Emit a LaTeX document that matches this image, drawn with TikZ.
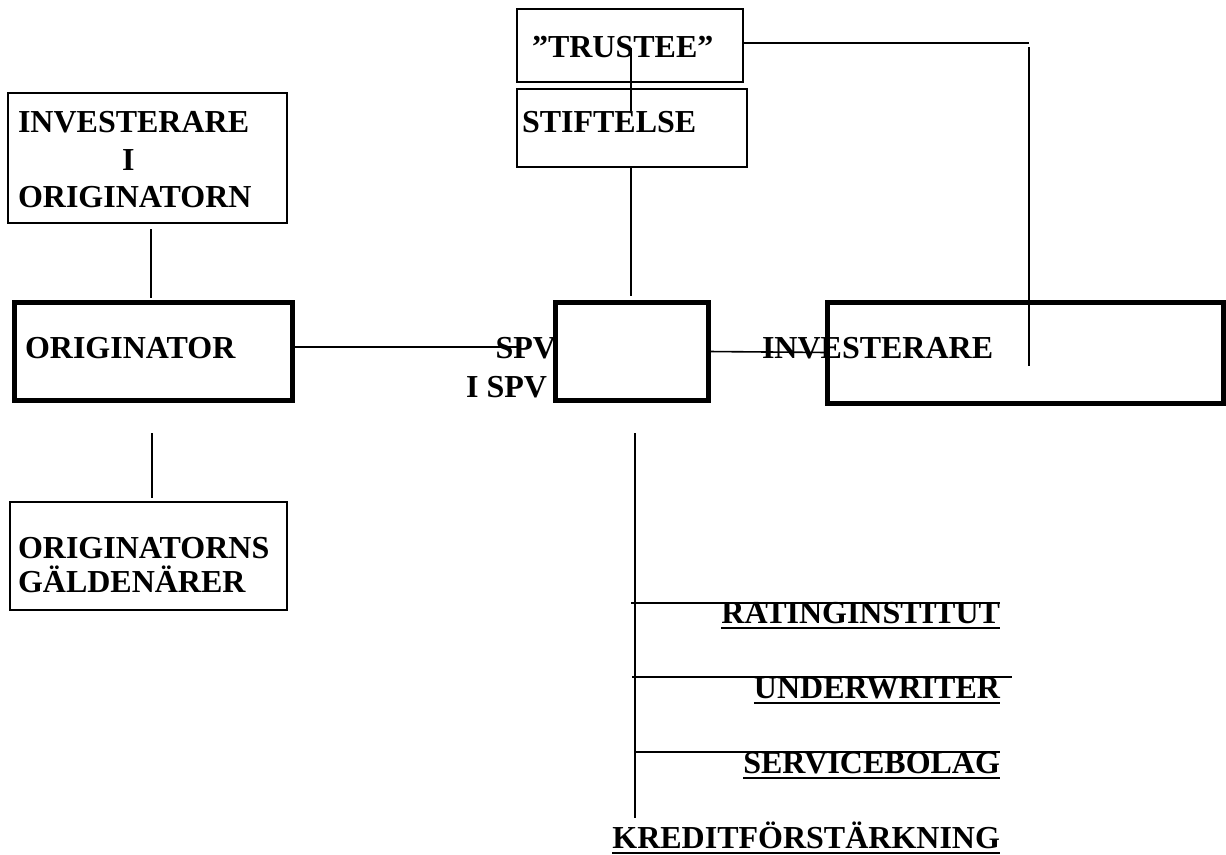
\documentclass[tikz,border=0pt]{standalone}
\usepackage{fontspec}
\setmainfont{Liberation Serif}
\begin{document}
\begin{tikzpicture}[x=1pt,y=-1pt,font=\fontsize{32}{36}\selectfont\bfseries]
\tikzset{
  boxthin/.style={draw, line width=1.2pt, inner sep=0pt, outer sep=0pt},
  boxthick/.style={draw, line width=5pt, inner sep=0pt, outer sep=0pt},
  lbl/.style={inner sep=0pt, outer sep=0pt},
  conn/.style={line width=1.6pt},
  branch/.style={line width=1.1pt},
  ul/.style={line width=2pt}
}
\useasboundingbox (0,0) rectangle (1226,854);
% boxes
\node[boxthin, minimum width=226pt, minimum height=73pt] (trustee) at (630,45.5) {};
\node[boxthin, minimum width=230pt, minimum height=78pt] (stift) at (632,128) {};
\node[boxthin, minimum width=279pt, minimum height=130pt] (invorig) at (147.5,158) {};
\node[boxthick, minimum width=278pt, minimum height=98pt] (orig) at (153.5,351.5) {};
\node[boxthin, minimum width=277pt, minimum height=108pt] (gald) at (148.5,556) {};
\node[boxthick, minimum width=153pt, minimum height=98pt] (spv) at (632,351.5) {};
\node[boxthick, minimum width=396pt, minimum height=101pt] (inv) at (1025,352.5) {};
% texts
\node[lbl, anchor=base west] (trusteetxt) at (532,57) {”TRUSTEE”};
\node[lbl, anchor=base west] (stifttxt) at (522,132) {STIFTELSE};
\node[lbl, anchor=base west] (invtxt1) at (18,132) {INVESTERARE};
\node[lbl, anchor=base west] (invtxt2) at (122,170) {I};
\node[lbl, anchor=base west] (invtxt3) at (18,207) {ORIGINATORN};
\node[lbl, anchor=base west] (origtxt) at (25,358) {ORIGINATOR};
\node[lbl, anchor=base west] (galdtxt1) at (18,558) {ORIGINATORNS};
\node[lbl, anchor=base west] (galdtxt2) at (18,592) {GÄLDENÄRER};
\node[lbl, anchor=base east] (spvtxt1) at (556,358) {SPV};
\node[lbl, anchor=base east] (spvtxt2) at (547,397) {I SPV};
\node[lbl, anchor=base west] (invtxt) at (762,358) {INVESTERARE};
\node[lbl, anchor=base east] (rating) at (1000,623) {RATINGINSTITUT};
\node[lbl, anchor=base east] (under) at (1000,698) {UNDERWRITER};
\node[lbl, anchor=base east] (service) at (1000,773) {SERVICEBOLAG};
\node[lbl, anchor=base east] (kredit) at (1000,848) {KREDITFÖRSTÄRKNING};
% underlines
\foreach \n in {rating,under,service,kredit}{
  \draw[ul] ([yshift=-5pt]\n.base west) -- ([yshift=-5pt]\n.base east);
}
% connector end points
\coordinate (ts1) at (631,48);
\coordinate (ts2) at (631,111);
\coordinate (ss) at (631,296);
\coordinate (tr1) at (1029,43);
\coordinate (tr2) at (1029,47);
\coordinate (tr3) at (1029,366);
\coordinate (os) at (520,347);
\coordinate (io1) at (151,229);
\coordinate (io2) at (151,298);
\coordinate (og1) at (152,433);
\coordinate (og2) at (152,498);
\coordinate (b1) at (635,433);
\coordinate (b2) at (635,818);
\coordinate (r1) at (631,603);
\coordinate (r2) at (1000,603);
\coordinate (u1) at (632,677);
\coordinate (u2) at (1012,677);
\coordinate (s1) at (635,752);
\coordinate (s2) at (1000,752);
% connectors
\draw[conn] (ts1) -- (ts2);
\draw[conn] (ss |- stift.south) -- (ss);
\draw[line width=2.2pt] (trustee.east |- tr1) -- (tr1);
\draw[line width=2pt] (tr2) -- (tr3);
\draw[conn] (orig.east |- os) -- (os);
\draw[conn] (spv.east) -- (inv.west);
\draw[conn] (io1) -- (io2);
\draw[conn] (og1) -- (og2);
\draw[conn] (b1) -- (b2);
\draw[branch] (r1) -- (r2);
\draw[branch] (u1) -- (u2);
\draw[branch] (s1) -- (s2);
\end{tikzpicture}
\end{document}
